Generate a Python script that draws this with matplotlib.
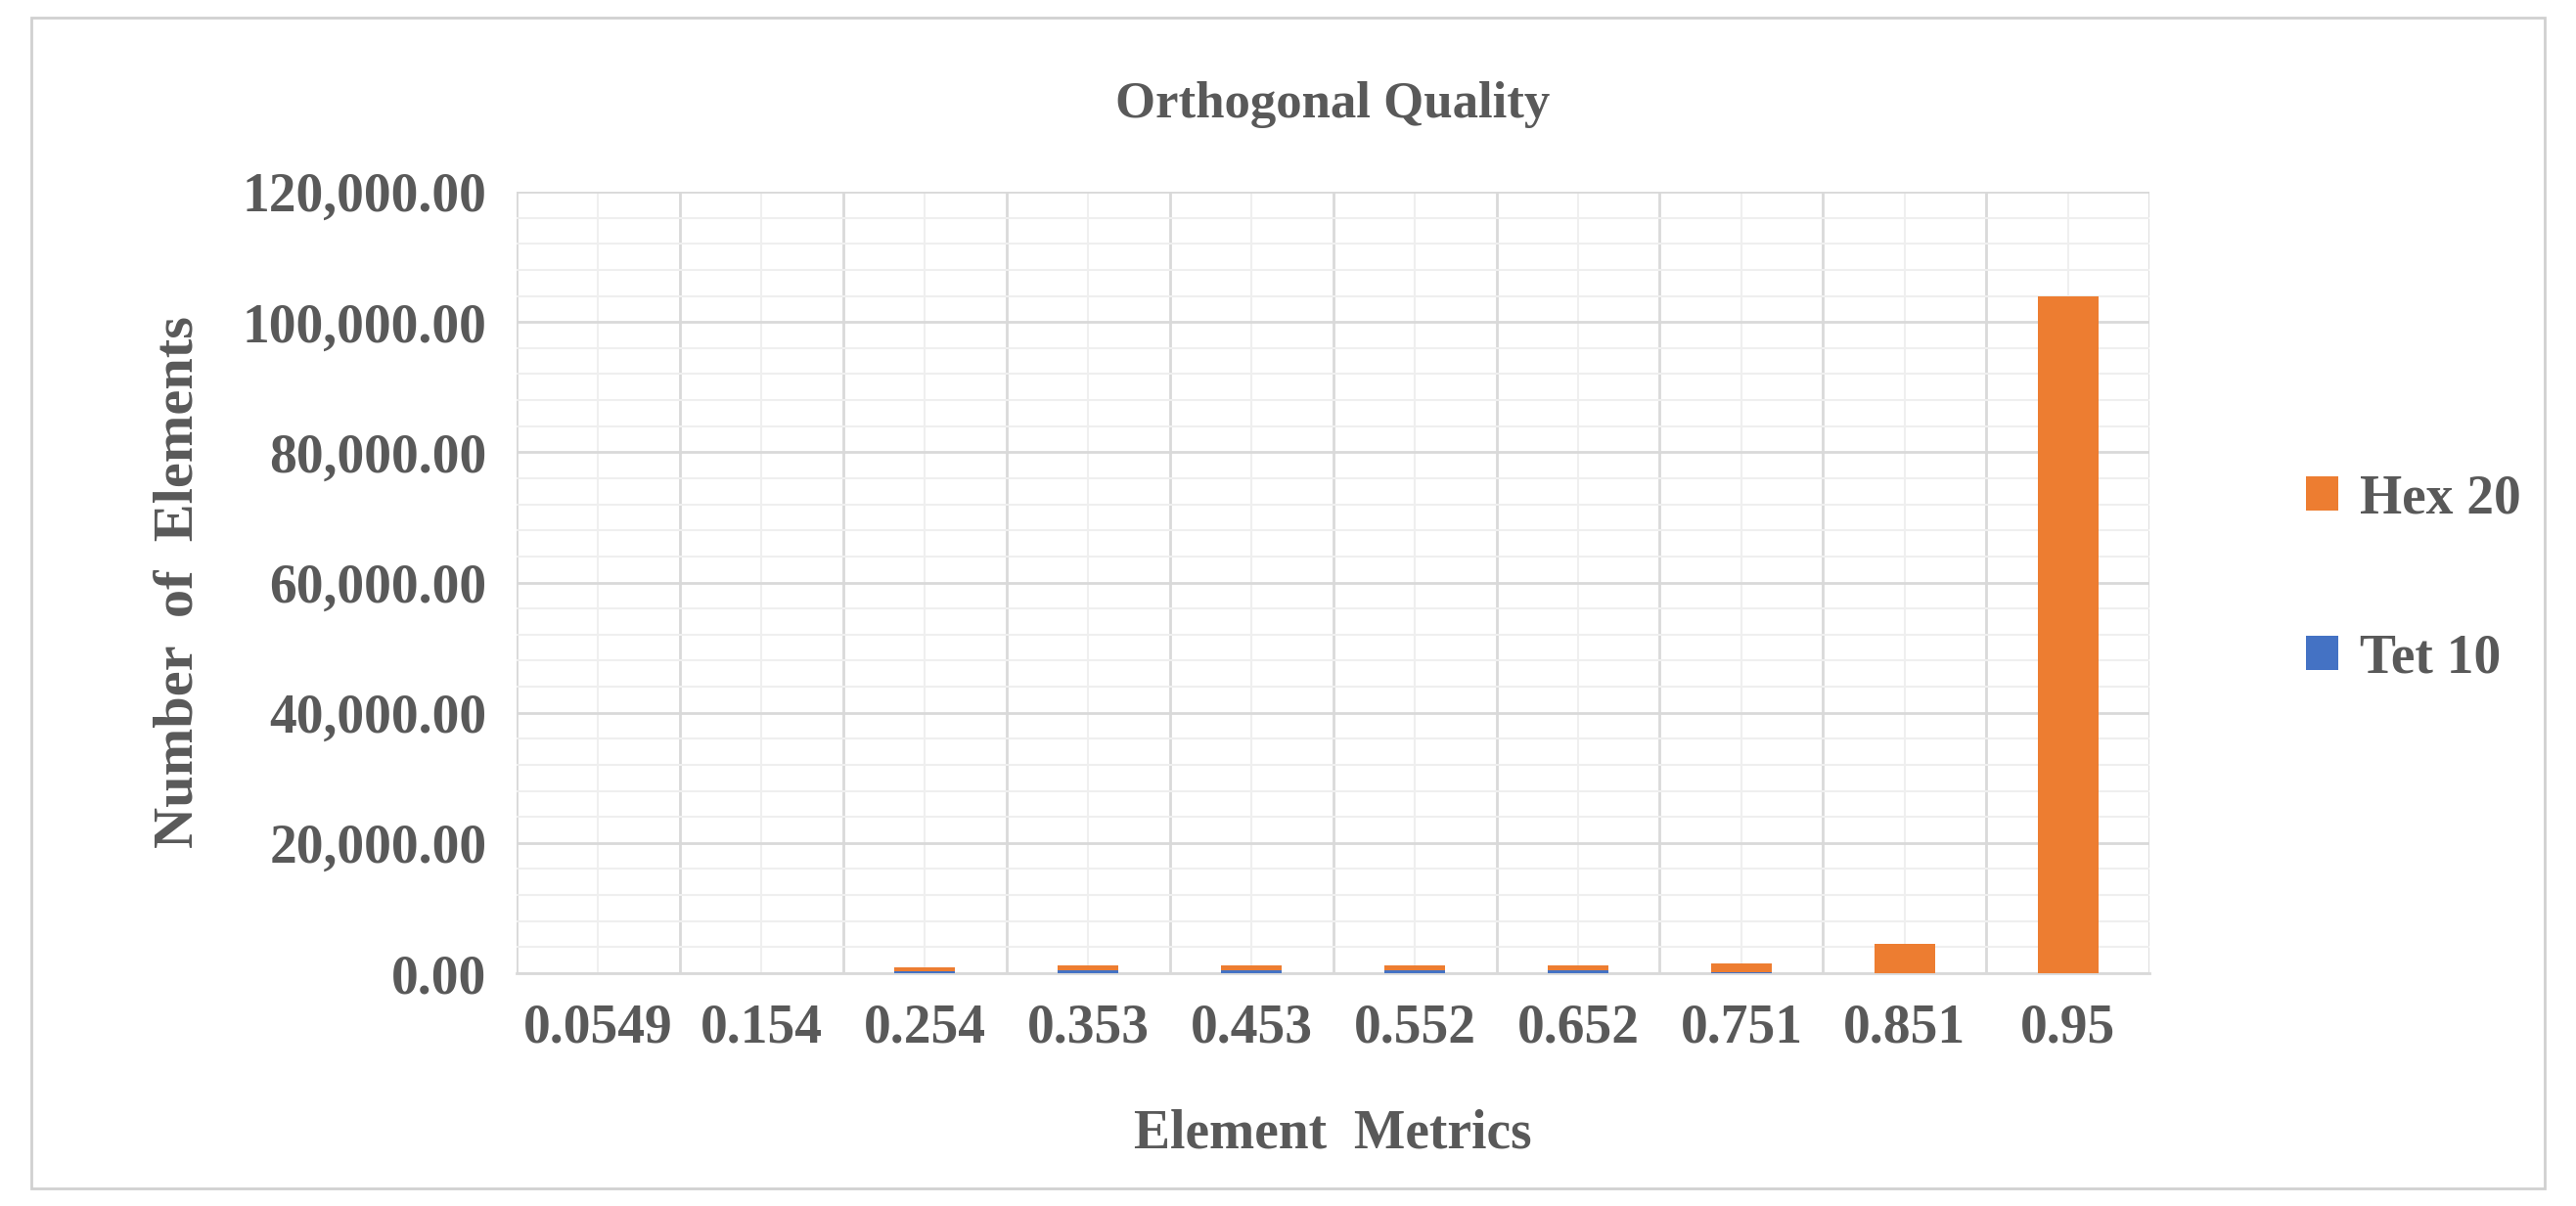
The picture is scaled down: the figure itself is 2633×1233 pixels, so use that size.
import matplotlib
matplotlib.use("Agg")
import matplotlib.pyplot as plt
import numpy as np
from matplotlib.ticker import MultipleLocator, FuncFormatter

categories = ["0.0549", "0.154", "0.254", "0.353", "0.453", "0.552", "0.652", "0.751", "0.851", "0.95"]
tet10 = [0, 0, 300, 500, 500, 500, 500, 100, 0, 0]
hex20 = [0, 0, 600, 700, 700, 700, 700, 1400, 4500, 104000]

plt.rcParams['font.family'] = ['Liberation Serif', 'DejaVu Serif']
gray = '#595959'
fig = plt.figure(figsize=(26.33, 12.33), dpi=100)
fig.patches.append(plt.Rectangle((0.012, 0.015), 0.976, 0.97, transform=fig.transFigure,
                                 fill=False, edgecolor='#d0d0d0', lw=2))
ax = fig.add_axes([0.2005, 0.193, 0.634, 0.648])
x = np.arange(len(categories))
ax.bar(x, tet10, width=0.37, color='#4472C4', label='Tet 10', zorder=3)
ax.bar(x, hex20, width=0.37, bottom=tet10, color='#ED7D31', label='Hex 20', zorder=3)
ax.set_xlim(-0.5, len(categories) - 0.5)
ax.set_ylim(0, 120000)
ax.yaxis.set_major_locator(MultipleLocator(20000))
ax.yaxis.set_minor_locator(MultipleLocator(4000))
ax.yaxis.set_major_formatter(FuncFormatter(lambda v, p: f"{v:,.2f}"))
ax.set_xticks(x)
ax.set_xticklabels(categories)
ax.set_xticks(np.arange(-0.5, len(categories)), minor=True)
ax.grid(which='major', axis='y', color='#d9d9d9', lw=2, zorder=0)
ax.grid(which='minor', axis='y', color='#efefef', lw=1.5, zorder=0)
ax.grid(which='minor', axis='x', color='#d9d9d9', lw=2, zorder=0)
ax.grid(which='major', axis='x', color='#efefef', lw=1.5, zorder=0)
for s in ['top', 'right', 'left']:
    ax.spines[s].set_visible(False)
ax.spines['bottom'].set_color('#d9d9d9')
ax.spines['bottom'].set_linewidth(2)
ax.tick_params(which='both', length=0)
ax.tick_params(axis='both', labelsize=40, labelcolor=gray, pad=22)
for t in ax.get_xticklabels() + ax.get_yticklabels():
    t.set_fontweight('bold')
ax.set_title('Orthogonal Quality', fontsize=38, fontweight='bold', color=gray, pad=55)
ax.set_xlabel('Element  Metrics', fontsize=40, fontweight='bold', color=gray, labelpad=40)
ax.set_ylabel('Number  of  Elements', fontsize=42, fontweight='bold', color=gray, labelpad=28)
h, l = ax.get_legend_handles_labels()
fig.legend(h[::-1], l[::-1], loc='center left', bbox_to_anchor=(0.876, 0.52), frameon=False,
           prop={'size': 40, 'weight': 'bold'}, labelcolor=gray, handlelength=0.6,
           handleheight=0.6, labelspacing=2.0, handletextpad=0.4)
fig.savefig('out.png', dpi=100)
